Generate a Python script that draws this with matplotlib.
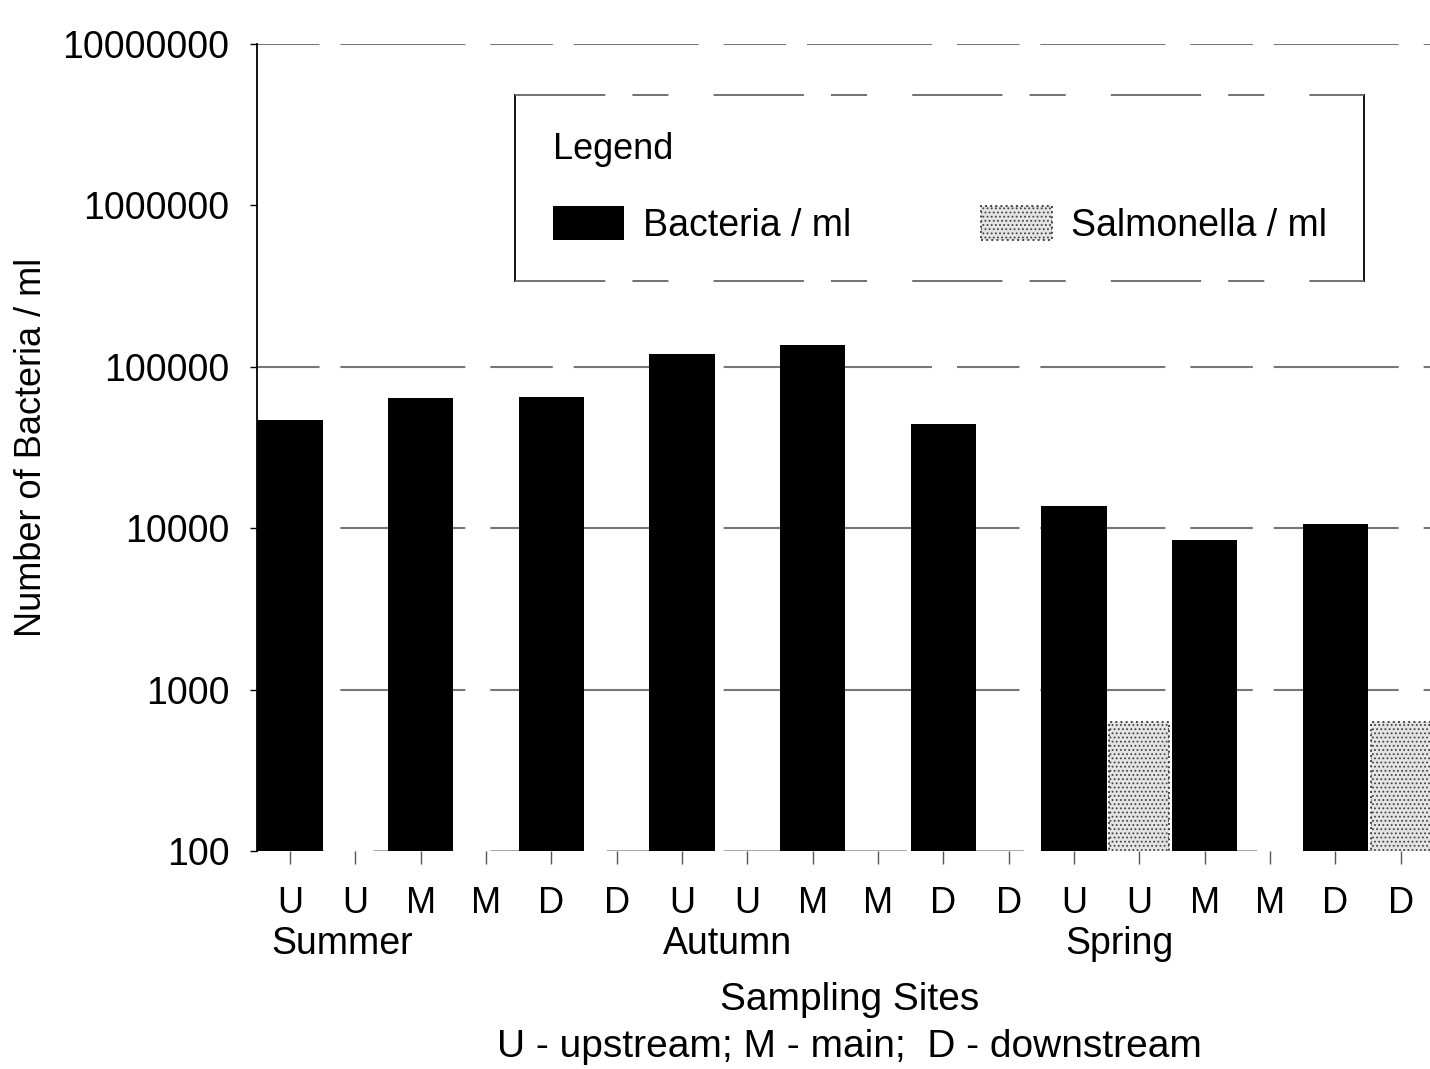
import matplotlib
matplotlib.use('Agg')
import matplotlib.pyplot as plt
import matplotlib.transforms as mtransforms
import numpy as np

plt.rcParams['font.family'] = ['Liberation Sans', 'DejaVu Sans']
plt.rcParams['hatch.linewidth'] = 0.8

sites = ['U', 'U', 'M', 'M', 'D', 'D'] * 3
seasons = ['Summer', 'Autumn', 'Spring']
season_pos = [0.8, 6.7, 12.7]

# bacteria bars sit on the first of each pair, salmonella on the second
bacteria = [47000, 64000, 65000, 120000, 137000, 44000, 13700, 8400, 10600]
salmonella = [0, 0, 0, 0, 0, 0, 630, 0, 630]

yticks = [100, 1000, 10000, 100000, 1000000, 10000000]
ytick_labels = ['100', '1000', '10000', '100000', '1000000', '10000000']
grid_levels = [1000, 10000, 100000, 10000000]

fig = plt.figure(figsize=(14.30, 10.69), dpi=100)
ax = fig.add_axes([0.180, 0.204, 0.820, 0.755])

x = np.arange(len(sites))
bx = x[0::2]
sx = x[1::2]

ax.set_yscale('log')
ax.set_ylim(100, 10000000)
ax.set_xlim(-0.5, 17.45)

ax.bar(bx, bacteria, width=1.0, color='black', zorder=3,
       label='Bacteria / ml')
s_vals = [v if v > 0 else np.nan for v in salmonella]
ax.bar(sx, s_vals, width=0.92, color='#e4e4e4', edgecolor='#444444',
       hatch='....', linestyle=':', linewidth=1.4, zorder=3,
       label='Salmonella / ml')

ax.set_yticks(yticks)
ax.set_yticklabels(ytick_labels, fontsize=27)
ax.yaxis.set_minor_locator(matplotlib.ticker.NullLocator())
ax.tick_params(axis='y', length=5, width=1, pad=15)

ax.set_xticks(x)
ax.set_xticklabels(sites, fontsize=26)
ax.tick_params(axis='x', length=9, width=1, color='#555555', pad=16)

for lvl in grid_levels:
    ax.axhline(lvl, color='#777777', linestyle=(0, (30, 10, 60, 12)),
               linewidth=1.5, zorder=1)
ax.axhline(100, color='#999999', linestyle=(0, (40, 30)), linewidth=1.2,
           zorder=1)

for side in ['top', 'right', 'bottom']:
    ax.spines[side].set_visible(False)
ax.spines['left'].set_linewidth(1.3)

ax.set_ylabel('Number of Bacteria / ml', fontsize=26, labelpad=10)

trans = mtransforms.blended_transform_factory(ax.transData, ax.transAxes)
for name, pos in zip(seasons, season_pos):
    ax.text(pos, -0.115, name, transform=trans, ha='center', va='center',
            fontsize=27)

ax.text(0.505, -0.185, 'Sampling Sites', transform=ax.transAxes,
        ha='center', va='center', fontsize=28)
ax.text(0.505, -0.243, 'U - upstream; M - main;  D - downstream',
        transform=ax.transAxes, ha='center', va='center', fontsize=28)

leg = ax.legend(loc='upper left', bbox_to_anchor=(0.22, 0.937, 0.724, 0.0),
                mode='expand', ncol=2, title='Legend', fontsize=27,
                title_fontsize=26, alignment='left', frameon=False,
                handlelength=1.9, handleheight=1.0, handletextpad=0.5,
                borderpad=1.0, borderaxespad=0, columnspacing=2.5,
                labelspacing=0.8)
leg._legend_box.sep = 28

# box round the legend: solid sides, broken grey top and bottom
fig.canvas.draw()
bb = leg.get_window_extent().transformed(ax.transAxes.inverted())
x0, x1, y1 = 0.22, 0.944, 0.937
y0 = min(bb.y0, 0.717)
ax.plot([x0, x0], [y0, y1], color='black', lw=1.3, transform=ax.transAxes,
        clip_on=False, zorder=4)
ax.plot([x1, x1], [y0, y1], color='black', lw=1.3, transform=ax.transAxes,
        clip_on=False, zorder=4)
for yy in (y0, y1):
    ax.plot([x0, x1], [yy, yy], color='#666666', lw=1.3,
            linestyle=(0, (50, 15, 20, 25)), transform=ax.transAxes,
            clip_on=False, zorder=4)

plt.savefig('out.png', dpi=100)
